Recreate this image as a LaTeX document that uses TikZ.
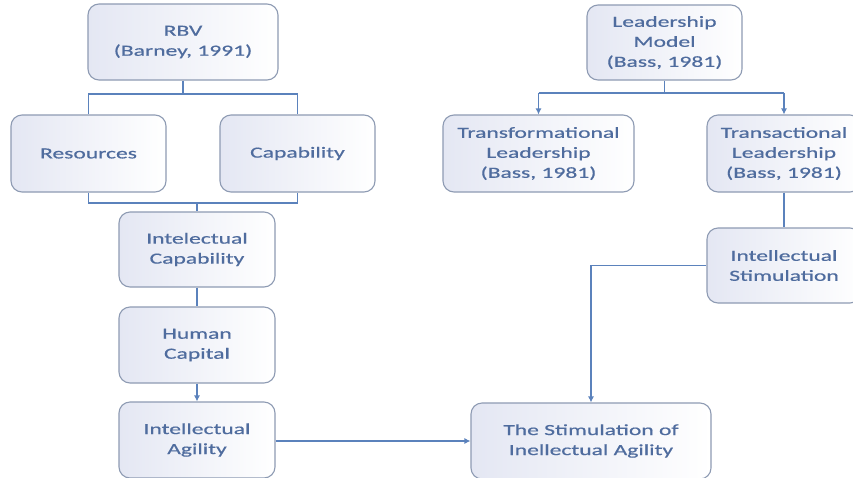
\documentclass[tikz,border=0pt]{standalone}
\usepackage{fontspec}
\setmainfont{Carlito}
\newfontfamily\boxfont[FakeStretch=1.52, FakeBold=0.6]{Carlito}
\usetikzlibrary{arrows.meta}
\definecolor{txt}{HTML}{4F6C9E}
\definecolor{bord}{HTML}{8E9BB3}
\definecolor{conn}{HTML}{5B82BC}
\definecolor{tint}{HTML}{E4E7F3}
\tikzset{
  box/.style={draw=bord, line width=1.1pt, rounded corners=11pt, left color=tint, right color=white,
    text=txt, align=center, inner sep=2pt,
    font=\boxfont\fontsize{15.5}{20}\selectfont},
  link/.style={draw=conn, line width=1.1pt},
  arr/.style={link, -{Latex[length=6pt,width=6pt]}}
}
\begin{document}
\begin{tikzpicture}[x=1pt,y=-1pt]
\useasboundingbox[fill=white] (0,0) rectangle (853,477);
\node[box, minimum width=190pt, minimum height=76pt] (rbv) at (183,42) {RBV\\(Barney, 1991)};
\node[box, minimum width=155pt, minimum height=77pt] (res) at (88.5,153.5) {Resources};
\node[box, minimum width=155pt, minimum height=77pt] (cap) at (297.5,153.5) {Capability};
\node[box, minimum width=156pt, minimum height=75pt] (icap) at (197,249.5) {Intelectual\\Capability};
\node[box, minimum width=156pt, minimum height=76pt] (hum) at (197,345) {Human\\Capital};
\node[box, minimum width=156pt, minimum height=76pt] (agil) at (197,440) {Intellectual\\Agility};
\node[box, minimum width=155pt, minimum height=75pt] (lead) at (664.5,42.5) {Leadership\\Model\\(Bass, 1981)};
\node[box, minimum width=191pt, minimum height=77pt] (transf) at (538.5,153.5) {Transformational\\Leadership\\(Bass, 1981)};
\node[box, minimum width=154pt, minimum height=77pt] (transa) at (784,153.5) {Transactional\\Leadership\\(Bass, 1981)};
\node[box, minimum width=154pt, minimum height=75pt] (istim) at (784,265.5) {Intellectual\\Stimulation};
\node[box, minimum width=240pt, minimum height=76pt] (stim) at (591,441) {The Stimulation of\\Inellectual Agility};

\coordinate (t1) at (183,94);
\coordinate (t1l) at (88.5,94);
\coordinate (t1r) at (297.5,94);
\draw[link] (rbv.south) -- (t1);
\draw[link] (res.north) -- (t1l) -- (t1r) -- (cap.north);

\coordinate (b1l) at (88.5,203);
\coordinate (b1r) at (297.5,203);
\coordinate (b1m) at (197,203);
\draw[link] (res.south) -- (b1l) -- (b1r) -- (cap.south);
\draw[link] (b1m) -- (icap.north);
\draw[link] (icap.south) -- (hum.north);
\draw[arr] (hum.south) -- (agil.north);
\draw[arr] (agil.east |- stim.west) -- (stim.west);

\coordinate (t2) at (664.5,93);
\coordinate (t2l) at (538.5,93);
\coordinate (t2r) at (784,93);
\draw[link] (lead.south) -- (t2);
\draw[link] (t2l) -- (t2r);
\draw[arr] (t2l) -- (transf.north);
\draw[arr] (t2r) -- (transa.north);
\draw[link] (transa.south) -- (istim.north);
\coordinate (c1) at (591,265.5);
\draw[arr] (istim.west) -- (c1) -- (stim.north);
\end{tikzpicture}
\end{document}
